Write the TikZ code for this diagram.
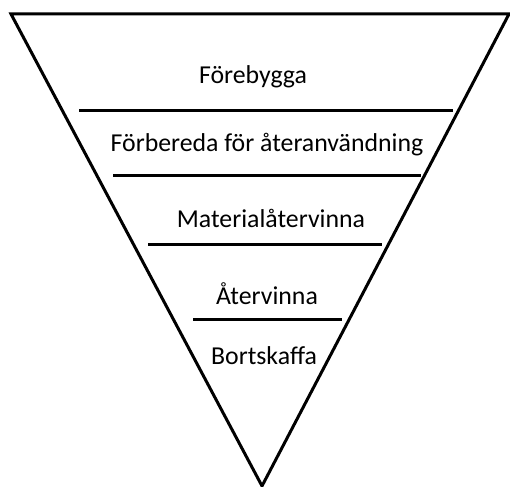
\documentclass[tikz,border=0pt]{standalone}
\usepackage{fontspec}
\setmainfont{Carlito}
\begin{document}
\begin{tikzpicture}[x=1pt,y=-1pt,line width=3pt,
	steplabel/.style={font=\fontsize{25.8}{30}\selectfont,inner sep=0pt}]
	\useasboundingbox (0,0) rectangle (510,486);
	\draw (11,14) -- (509,14) -- (262,486) -- cycle;
	\draw (79,111) -- (453,111);
	\draw (113,176) -- (421,176);
	\draw (148,244) -- (382,244);
	\draw (193,319) -- (342,319);
	\node[steplabel] (forebygga) at (253,77) {Förebygga};
	\node[steplabel] (forbereda) at (267,145) {Förbereda för återanvändning};
	\node[steplabel] (material) at (271,218) {Materialåtervinna};
	\node[steplabel] (atervinna) at (267,294) {Återvinna};
	\node[steplabel] (bortskaffa) at (264,356) {Bortskaffa};
\end{tikzpicture}
\end{document}
